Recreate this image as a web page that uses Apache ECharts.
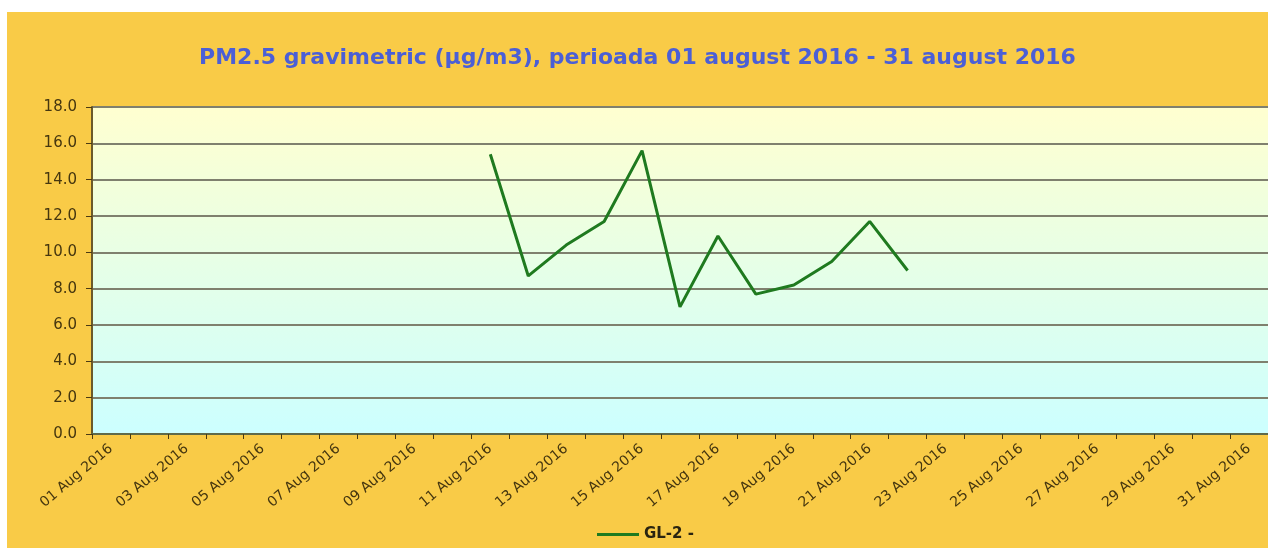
<!DOCTYPE html>
<html>
<head>
<meta charset="utf-8">
<script src="https://cdn.jsdelivr.net/npm/echarts@6/dist/echarts.min.js"></script>
<style>
  html, body { margin: 0; padding: 0; background: #ffffff; width: 1268px; height: 548px; overflow: hidden; }
  #chart { position: absolute; left: 7px; top: 12px; width: 1261px; height: 536px; background: #F9CB47; }
</style>
</head>
<body>
<div id="chart"></div>
<script>
const titleText = 'PM2.5 gravimetric (µg/m3), perioada 01 august 2016 - 31 august 2016';
const seriesName = 'GL-2 -';
const categories = [
  '01 Aug 2016','02 Aug 2016','03 Aug 2016','04 Aug 2016','05 Aug 2016','06 Aug 2016',
  '07 Aug 2016','08 Aug 2016','09 Aug 2016','10 Aug 2016','11 Aug 2016','12 Aug 2016',
  '13 Aug 2016','14 Aug 2016','15 Aug 2016','16 Aug 2016','17 Aug 2016','18 Aug 2016',
  '19 Aug 2016','20 Aug 2016','21 Aug 2016','22 Aug 2016','23 Aug 2016','24 Aug 2016',
  '25 Aug 2016','26 Aug 2016','27 Aug 2016','28 Aug 2016','29 Aug 2016','30 Aug 2016',
  '31 Aug 2016'
];
const gl2Values = [
  null, null, null, null, null, null, null, null, null, null,
  15.4, 8.7, 10.4, 11.7, 15.6, 7.0, 10.9, 7.7, 8.2, 9.5, 11.7, 9.0,
  null, null, null, null, null, null, null, null, null
];
const yMin = 0, yMax = 18, yInterval = 2;

const chart = echarts.init(document.getElementById('chart'), null, { renderer: 'canvas' });
const labelColor = '#45360f';
chart.setOption({
  animation: false,
  backgroundColor: 'transparent',
  title: {
    text: titleText,
    left: 'center',
    top: 30,
    textStyle: { color: '#4B5FD6', fontFamily: 'DejaVu Sans', fontWeight: 'bold', fontSize: 22 }
  },
  legend: {
    data: [seriesName],
    bottom: 1,
    left: 585,
    itemWidth: 42,
    itemHeight: 10,
    itemGap: 4,
    icon: 'path://M0,4 L42,4 L42,7 L0,7 Z',
    textStyle: { color: '#2a2410', fontFamily: 'DejaVu Sans', fontWeight: 'bold', fontSize: 15 }
  },
  grid: {
    left: 85, top: 95, width: 1178, height: 327,
    show: true,
    borderWidth: 0,
    backgroundColor: new echarts.graphic.LinearGradient(0, 0, 0, 1, [
      { offset: 0, color: '#FFFFD0' },
      { offset: 1, color: '#CCFFFF' }
    ])
  },
  xAxis: {
    type: 'category',
    data: categories,
    boundaryGap: true,
    axisLine: { show: true, lineStyle: { color: '#5f6a4a', width: 2 } },
    axisTick: { show: true, interval: 0, length: 5, lineStyle: { color: '#4a3a12', width: 1 } },
    axisLabel: {
      interval: 1,
      rotate: 40,
      margin: 13,
      color: labelColor,
      fontFamily: 'DejaVu Sans',
      fontSize: 14
    },
    splitLine: { show: false }
  },
  yAxis: {
    type: 'value',
    min: yMin, max: yMax, interval: yInterval,
    axisLine: { show: true, lineStyle: { color: '#6b5a2a', width: 2 } },
    axisTick: { show: true, length: 6, lineStyle: { color: '#4a3a12', width: 1 } },
    axisLabel: {
      margin: 15,
      color: labelColor,
      fontFamily: 'DejaVu Sans',
      fontSize: 15,
      formatter: v => v.toFixed(1)
    },
    splitLine: { show: true, lineStyle: { color: '#7f806e', width: 2 } }
  },
  series: [{
    name: seriesName,
    type: 'line',
    data: gl2Values,
    connectNulls: false,
    showSymbol: false,
    symbol: 'none',
    lineStyle: { color: '#1f7a1f', width: 3 },
    itemStyle: { color: '#1f7a1f' }
  }]
});
</script>
</body>
</html>
